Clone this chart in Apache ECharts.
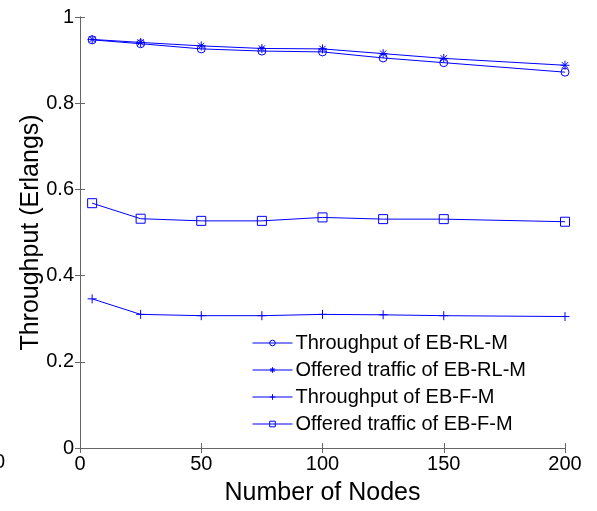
<!DOCTYPE html>
<html>
<head>
<meta charset="utf-8">
<script src="https://cdn.jsdelivr.net/npm/echarts@6/dist/echarts.min.js"></script>
<style>html,body{margin:0;padding:0;background:#fff;}#c{width:597px;height:511px;}</style>
</head>
<body>
<div id="c"></div>
<script>
var nodes = [5, 25, 50, 75, 100, 125, 150, 200];
var throughputRL = [0.947, 0.938, 0.926, 0.921, 0.919, 0.905, 0.894, 0.872];
var offeredRL = [0.948, 0.941, 0.933, 0.927, 0.926, 0.915, 0.904, 0.888];
var throughputF = [0.346, 0.310, 0.307, 0.307, 0.310, 0.309, 0.307, 0.305];
var offeredF = [0.568, 0.532, 0.527, 0.527, 0.535, 0.531, 0.531, 0.525];
var seriesNames = ['Throughput of EB-RL-M', 'Offered traffic of EB-RL-M', 'Throughput of EB-F-M', 'Offered traffic of EB-F-M'];
var xTicks = [0, 50, 100, 150, 200];
var yTicks = [0, 0.2, 0.4, 0.6, 0.8, 1];

var BLUE = '#0000ff';
var FONT = 'Liberation Sans, Arial, sans-serif';
var STAR = 'path://M0,-1L0,1M-1,0L1,0M-0.7,-0.7L0.7,0.7M-0.7,0.7L0.7,-0.7';
var PLUS = 'path://M0,-1L0,1M-1,0L1,0';

function pairs(ys) { return nodes.map(function (x, i) { return [x, ys[i]]; }); }
function mk(name, ys, symbol, size) {
  return {
    name: name, type: 'line', data: pairs(ys), symbol: symbol, symbolSize: size,
    showAllSymbol: true, clip: false,
    lineStyle: { color: BLUE, width: 1 },
    itemStyle: { color: 'none', borderColor: BLUE, borderWidth: 1 },
    emphasis: { disabled: true }, animation: false
  };
}
var axisCommon = {
  type: 'value',
  axisLine: { show: true, lineStyle: { color: '#666', width: 1 } },
  axisTick: { show: true, inside: true, length: 5, lineStyle: { color: '#666' } },
  splitLine: { show: false }
};
var chart = echarts.init(document.getElementById('c'), null, { renderer: 'canvas' });
chart.setOption({
  backgroundColor: '#fff',
  animation: false,
  grid: { left: 80, right: 32, top: 17, bottom: 63, containLabel: false },
  xAxis: [
    Object.assign({}, axisCommon, {
      position: 'bottom', min: xTicks[0], max: xTicks[xTicks.length - 1], interval: 50,
      axisLabel: { color: '#000', fontSize: 20, fontFamily: FONT, margin: 6 },
      name: 'Number of Nodes', nameLocation: 'middle', nameGap: 33, nameMoveOverlap: false,
      nameTextStyle: { color: '#000', fontSize: 25, fontFamily: FONT }
    }),
    Object.assign({}, axisCommon, {
      position: 'top', min: xTicks[0], max: xTicks[xTicks.length - 1], interval: 50,
      axisLabel: { show: false }
    })
  ],
  yAxis: [
    Object.assign({}, axisCommon, {
      position: 'left', min: yTicks[0], max: yTicks[yTicks.length - 1], interval: 0.2,
      axisLabel: { color: '#000', fontSize: 20, fontFamily: FONT, margin: 6 },
      name: 'Throughput (Erlangs)', nameLocation: 'middle', nameGap: 36, nameRotate: 90,
      nameMoveOverlap: false,
      nameTextStyle: { color: '#000', fontSize: 25, fontFamily: FONT }
    }),
    Object.assign({}, axisCommon, {
      position: 'right', min: yTicks[0], max: yTicks[yTicks.length - 1], interval: 0.2,
      axisLabel: { show: false }
    })
  ],
  legend: {
    orient: 'vertical', left: 247, top: 328, itemWidth: 40, itemHeight: 7, itemGap: 7,
    data: seriesNames,
    lineStyle: { color: BLUE, width: 1 },
    itemStyle: { color: 'none', borderColor: BLUE, borderWidth: 1 },
    textStyle: { color: '#000', fontSize: 20, fontFamily: FONT, lineHeight: 20, padding: [0, 0, 0, -2] },
    selectedMode: false
  },
  graphic: [
    { type: 'text', left: -6, top: 452, style: { text: '0', fontSize: 20, fontFamily: FONT, fill: '#000' } }
  ],
  series: [
    mk(seriesNames[0], throughputRL, 'circle', 8),
    mk(seriesNames[1], offeredRL, STAR, 9),
    mk(seriesNames[2], throughputF, PLUS, 9),
    mk(seriesNames[3], offeredF, 'rect', 9)
  ]
});
</script>
</body>
</html>
